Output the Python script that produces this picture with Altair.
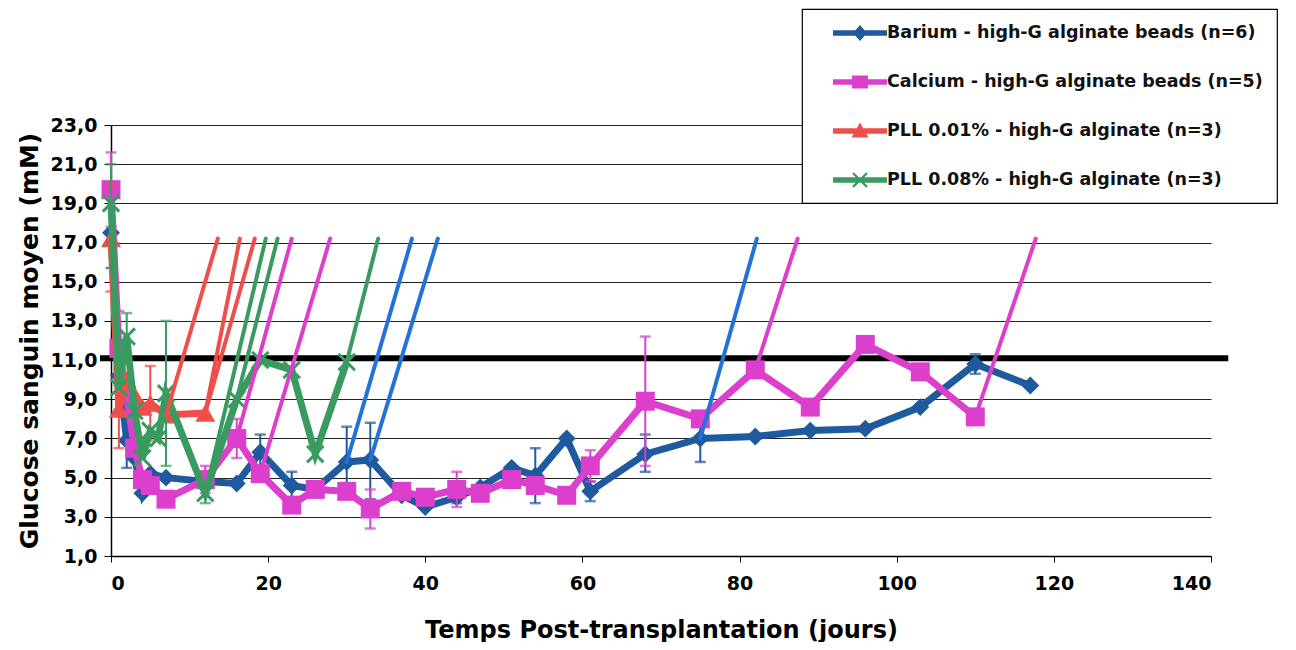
import altair as alt
import pandas as pd

# ---------------- data ----------------
series_names = [
    "Barium - high-G alginate beads (n=6)",
    "Calcium - high-G alginate beads (n=5)",
    "PLL 0.01% - high-G alginate (n=3)",
    "PLL 0.08% - high-G alginate (n=3)",
]

barium_days = [0, 1, 2, 3, 4, 5, 7, 12, 16, 19, 23, 26, 30, 33, 37, 40, 44, 47, 51, 54, 58, 61, 68, 75, 82, 89, 96, 103, 110, 117]
barium_vals = [17.5, 10.2, 6.9, 6.0, 4.2, 5.2, 5.0, 4.8, 4.7, 6.3, 4.6, 4.4, 5.8, 5.9, 4.1, 3.5, 4.0, 4.5, 5.5, 5.1, 7.0, 4.3, 6.2, 7.0, 7.1, 7.4, 7.5, 8.6, 10.8, 9.7]

calcium_days = [0, 1, 3, 4, 5, 7, 12, 16, 19, 23, 26, 30, 33, 37, 40, 44, 47, 51, 54, 58, 61, 68, 75, 82, 89, 96, 103, 110]
calcium_vals = [19.7, 11.6, 6.5, 4.9, 4.6, 3.9, 4.9, 7.0, 5.2, 3.6, 4.4, 4.3, 3.4, 4.3, 4.0, 4.4, 4.2, 4.9, 4.6, 4.1, 5.6, 8.9, 8.0, 10.5, 8.6, 11.8, 10.4, 8.1]

pll1_days = [0, 1, 2, 4, 5, 7, 12]
pll1_vals = [17.2, 8.5, 10.0, 8.6, 8.8, 8.2, 8.3]

pll8_days = [0, 1, 2, 3, 4, 5, 6, 7, 12, 16, 19, 23, 26, 30]
pll8_vals = [19.0, 9.6, 12.2, 8.4, 6.0, 7.4, 7.0, 9.3, 4.2, 9.0, 11.0, 10.5, 6.2, 10.9]

# graft-failure lines: start day, start value, end day (end value = failure_level)
failure_level = 17.2
barium_fail_from = [30, 33, 75]
barium_fail_from_val = [5.8, 5.9, 7.0]
barium_fail_to = [38.3, 41.6, 82.2]
calcium_fail_from = [16, 19, 82, 110]
calcium_fail_from_val = [7.0, 5.2, 10.5, 8.1]
calcium_fail_to = [23.0, 27.9, 87.4, 117.7]
pll1_fail_from = [7, 12, 12]
pll1_fail_from_val = [8.2, 8.3, 8.3]
pll1_fail_to = [13.6, 16.4, 18.3]
pll8_fail_from = [12, 16, 30]
pll8_fail_from_val = [4.2, 9.0, 10.9]
pll8_fail_to = [19.7, 21.2, 34.0]

# error bars (day, low, high)
barium_err_days = [0, 2, 19, 23, 30, 33, 44, 54, 61, 68, 75, 110]
barium_err_low = [15.7, 5.5, 5.2, 3.9, 4.0, 3.9, 3.7, 3.7, 3.8, 5.3, 5.8, 10.3]
barium_err_high = [19.3, 8.3, 7.2, 5.3, 7.6, 7.8, 4.3, 6.5, 4.8, 7.2, 8.2, 11.3]
calcium_err_days = [0, 1, 12, 16, 33, 44, 61, 68]
calcium_err_low = [17.8, 9.7, 4.2, 6.0, 2.4, 3.5, 4.8, 5.6]
calcium_err_high = [21.6, 13.5, 5.6, 8.0, 4.4, 5.3, 6.4, 12.2]
pll1_err_days = [0, 1, 5]
pll1_err_low = [14.5, 6.5, 6.9]
pll1_err_high = [19.9, 10.5, 10.7]
pll8_err_days = [0, 2, 7, 12]
pll8_err_low = [17.0, 11.0, 5.6, 3.7]
pll8_err_high = [21.0, 13.4, 13.0, 4.7]

threshold_level = 11.1
threshold_from = -1.4
threshold_to = 142.2

x_ticks = [0, 20, 40, 60, 80, 100, 120, 140]
y_ticks = [1, 3, 5, 7, 9, 11, 13, 15, 17, 19, 21, 23]

# ---------------- styles ----------------
FONT = "DejaVu Sans"
colors = ["#1f5a9e", "#dc3fcc", "#ee4f4b", "#3a9b60"]
fail_colors = ["#2372d9", "#dc3fcc", "#ee4f4b", "#3a9b60"]

all_days = [barium_days, calcium_days, pll1_days, pll8_days]
all_vals = [barium_vals, calcium_vals, pll1_vals, pll8_vals]
all_fail = [
    (barium_fail_from, barium_fail_from_val, barium_fail_to),
    (calcium_fail_from, calcium_fail_from_val, calcium_fail_to),
    (pll1_fail_from, pll1_fail_from_val, pll1_fail_to),
    (pll8_fail_from, pll8_fail_from_val, pll8_fail_to),
]
all_err = [
    (barium_err_days, barium_err_low, barium_err_high),
    (calcium_err_days, calcium_err_low, calcium_err_high),
    (pll1_err_days, pll1_err_low, pll1_err_high),
    (pll8_err_days, pll8_err_low, pll8_err_high),
]

X = alt.X(
    "day:Q",
    scale=alt.Scale(domain=[0, 140], nice=False, zero=False),
    axis=alt.Axis(
        values=x_ticks, grid=False, labelFont=FONT, labelFontWeight="bold",
        labelFontSize=19, labelColor="black", labelPadding=12, tickSize=6,
        tickColor="black", domainColor="black", domainWidth=1.5,
        title="Temps Post-transplantation (jours)", titleFont=FONT,
        titleFontWeight="bold", titleFontSize=24, titleColor="black", titlePadding=25,
    ),
)
Y = alt.Y(
    "value:Q",
    scale=alt.Scale(domain=[1, 23], nice=False, zero=False),
    axis=alt.Axis(
        values=y_ticks, labelExpr="replace(format(datum.value, '.1f'), '.', ',')",
        grid=True, gridColor="#222222", gridWidth=1, labelFont=FONT,
        labelFontWeight="bold", labelFontSize=19, labelColor="black", labelPadding=7,
        tickSize=7, tickColor="black", domainColor="black", domainWidth=1.5,
        title="Glucose sanguin moyen (mM)", titleFont=FONT, titleFontWeight="bold",
        titleFontSize=25, titleColor="black", titlePadding=8,
    ),
)

layers = []

thr_df = pd.DataFrame({"day": [threshold_from], "day2": [threshold_to], "value": [threshold_level]})
layers.append(alt.Chart(thr_df).mark_rule(color="black", strokeWidth=6).encode(x=X, x2="day2:Q", y=Y))

point_marks = [
    dict(shape="diamond", filled=True, size=320),
    dict(shape="square", filled=True, size=360),
    dict(shape="triangle-up", filled=True, size=400),
    dict(shape="M-1,-1L1,1M-1,1L1,-1", filled=False, size=270, strokeWidth=3),
]

for i in range(4):
    df = pd.DataFrame({"day": all_days[i], "value": all_vals[i]})
    ed, el, eh = all_err[i]
    err_df = pd.DataFrame({"day": ed, "value": el, "value2": eh})
    cap_df = pd.DataFrame({"day": ed + ed, "value": el + eh})
    layers.append(alt.Chart(df).mark_line(color=colors[i], strokeWidth=7).encode(x=X, y=Y))
    layers.append(alt.Chart(err_df).mark_rule(color=colors[i], strokeWidth=2).encode(x=X, y=Y, y2="value2:Q"))
    layers.append(alt.Chart(cap_df).mark_tick(color=colors[i], orient="horizontal", size=11, thickness=2.5).encode(x=X, y=Y))
    layers.append(alt.Chart(df).mark_point(color=colors[i], opacity=1, **point_marks[i]).encode(x=X, y=Y))

for i in [2, 3, 1, 0]:
    fd, fv, ft = all_fail[i]
    fdf = pd.DataFrame({"day": fd, "value": fv, "day2": ft, "value2": [failure_level] * len(fd)})
    layers.append(
        alt.Chart(fdf).mark_rule(color=fail_colors[i], strokeWidth=4, strokeCap="round")
        .encode(x=X, y=Y, x2="day2:Q", y2="value2:Q")
    )

# legend carrier: symbol = line + marker
line_path = "M-2.7,-0.28H2.7V0.28H-2.7Z"
legend_paths = [
    line_path + " M0,-0.8L0.7,0L0,0.8L-0.7,0Z",
    line_path + " M-0.8,-0.65H0.8V0.65H-0.8Z",
    line_path + " M0,-0.85L0.85,0.65L-0.85,0.65Z",
    line_path + " M-0.615,-0.785L0.785,0.615L0.615,0.785L-0.785,-0.615Z"
    + " M-0.785,0.615L0.615,-0.785L0.785,-0.615L-0.615,0.785Z",
]
leg = alt.Legend(
    title=None, orient="none", legendX=691, legendY=-116, padding=14,
    fillColor="white", strokeColor="black",
    symbolSize=400, symbolOffset=34, symbolStrokeWidth=0, symbolOpacity=1,
    labelOffset=17, labelFont=FONT, labelFontWeight="bold", labelFontSize=17.5,
    labelColor="#111111", labelLimit=600, rowPadding=30,
)
leg_df = pd.DataFrame({
    "series": series_names,
    "day": [d[0] for d in all_days],
    "value": [v[0] for v in all_vals],
})
layers.append(
    alt.Chart(leg_df).mark_point(filled=True, opacity=0).encode(
        x=X, y=Y,
        color=alt.Color("series:N", scale=alt.Scale(domain=series_names, range=colors), legend=leg),
        shape=alt.Shape("series:N", scale=alt.Scale(domain=series_names, range=legend_paths), legend=leg),
    )
)

chart = (
    alt.layer(*layers)
    .properties(
        width=1100, height=431,
        autosize=alt.AutoSizeParams(type="none"),
        padding={"left": 103, "top": 117, "right": 77, "bottom": 86},
        background="white",
    )
    .configure_view(strokeWidth=0)
    .configure_legend(strokeWidth=1.2)
)

chart.save("out.html", embed_options={"renderer": "svg", "actions": False})
